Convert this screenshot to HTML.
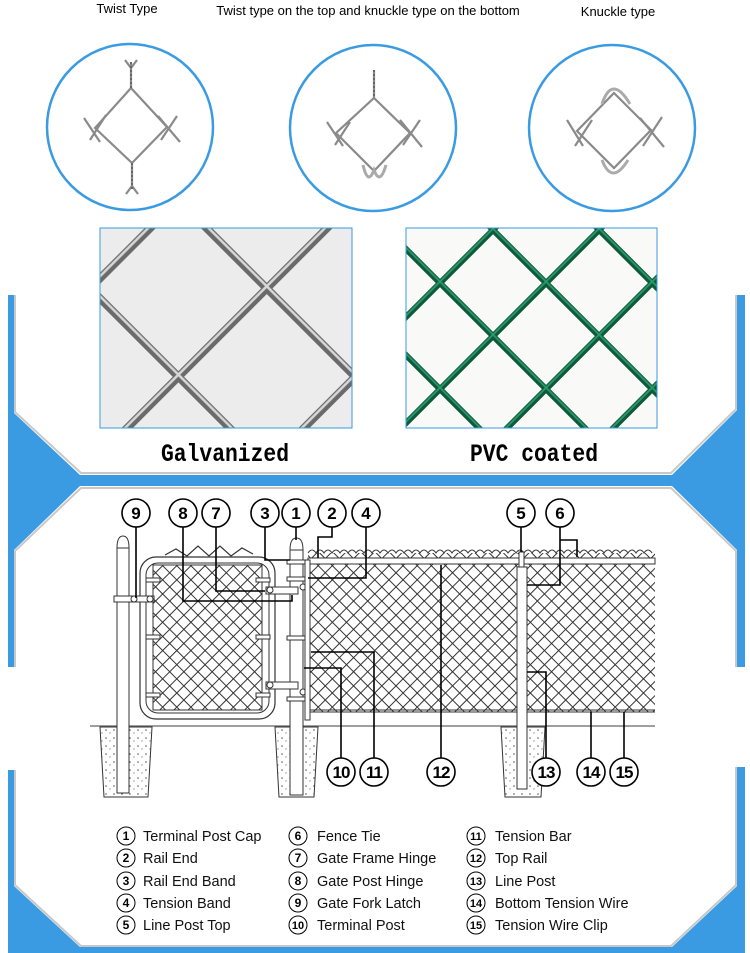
<!DOCTYPE html>
<html><head><meta charset="utf-8"><style>
html,body{margin:0;padding:0;background:#fff;}
svg{display:block;}
text{font-family:"Liberation Sans",sans-serif;}
</style></head><body>
<svg width="750" height="953" viewBox="0 0 750 953" xmlns="http://www.w3.org/2000/svg">
<defs>
<pattern id="mesh" width="10" height="10" patternUnits="userSpaceOnUse" patternTransform="rotate(45)">
<path d="M0 5H10M5 0V10" stroke="#333" stroke-width="1" fill="none"/>
</pattern>
<pattern id="galv" width="125" height="125" patternUnits="userSpaceOnUse" patternTransform="translate(90,200) rotate(45)">
<rect width="125" height="125" fill="#ececec"/>
<path d="M0 62.5H125M62.5 0V125" stroke="#6a6a6a" stroke-width="8" fill="none"/>
<path d="M0 61H125M61 0V125" stroke="#d8d8d8" stroke-width="2.5" fill="none"/>
</pattern>
<pattern id="pvc" width="75" height="75" patternUnits="userSpaceOnUse" patternTransform="translate(440,230) rotate(45)">
<rect width="75" height="75" fill="#f9f9f7"/>
<path d="M0 37.5H75M37.5 0V75" stroke="#0f5a3c" stroke-width="6" fill="none"/>
<path d="M0 36.5H75M36.5 0V75" stroke="#2a9a6a" stroke-width="1.8" fill="none"/>
</pattern>
<pattern id="conc" width="8" height="8" patternUnits="userSpaceOnUse">
<circle cx="2" cy="2" r="0.8" fill="#555"/><circle cx="6" cy="5" r="0.6" fill="#666"/>
</pattern>
</defs>

<text x="127" y="13" font-size="13" text-anchor="middle">Twist Type</text>
<text x="368" y="15" font-size="13" text-anchor="middle">Twist type on the top and knuckle type on the bottom</text>
<text x="618" y="16" font-size="13" text-anchor="middle">Knuckle type</text>

<g fill="none" stroke="#3a9be3" stroke-width="2.5">
<circle cx="130" cy="127" r="83"/><circle cx="373" cy="128" r="83"/><circle cx="612" cy="128" r="83"/>
</g>
<g fill="none" stroke="#8a8a8a" stroke-width="2.2">
<path d="M131 88L167 127L132 163L95 128Z"/>
<path d="M84 118L100 142M90 140L106 115M161 140L177 116M158 116L180 142"/>
<path d="M131 88V62M132 163V188M125 60L131 68L137 60M126 194L132 186L138 194"/>
<path d="M374 98L410 133L374 171L336 133Z"/>
<path d="M327 122L343 146M335 145L350 122M403 145L420 120M400 120L422 147"/>
<path d="M374 98V70"/>
<path d="M363 165Q368 186 374 170Q380 186 386 165" stroke-width="3" stroke="#aaa"/>
<path d="M614 93L651 130L614 168L577 131Z"/>
<path d="M567 120L583 146M575 146L592 120M643 146L662 117M640 118L664 147"/>
<path d="M602 104Q612 74 630 104M602 160Q612 186 628 160" stroke-width="3" stroke="#aaa"/>
</g>
<g stroke="#666" stroke-width="2" stroke-dasharray="2 2">
<path d="M131 62V88M132 163V190M374 70V98"/>
</g>

<rect x="100" y="228" width="252" height="200" fill="url(#galv)" stroke="#3a9be3"/>
<rect x="406" y="228" width="251" height="200" fill="url(#pvc)" stroke="#3a9be3"/>
<text x="161" y="461" font-size="25" font-weight="bold" textLength="128" lengthAdjust="spacingAndGlyphs" style="font-family:'Liberation Mono',monospace">Galvanized</text>
<text x="470" y="461" font-size="25" font-weight="bold" textLength="128" lengthAdjust="spacingAndGlyphs" style="font-family:'Liberation Mono',monospace">PVC coated</text>

<g fill="#3a9be3">
<path d="M8 295H14V413L80 475H672L737 410V295H745V667H737V550L672 486H80L14 550V667H8Z"/>
<path d="M8 770H14V886L80 947H672L737 886V767H745V953H8Z"/>
</g>
<g fill="none" stroke="#c8c8c8" stroke-width="2">
<path d="M15 295V412L81 473H671L736 409V295"/>
<path d="M15 667V551L81 488H671L736 551V667"/>
<path d="M15 770V885L81 946H671L736 885V767"/>
</g>

<line x1="90" y1="726" x2="655" y2="726" stroke="#666" stroke-width="1.2"/>
<g stroke="#333" stroke-width="1">
<path d="M100 727L152 727L148 797L104 797Z" fill="url(#conc)"/>
<path d="M275 727L318 727L314 797L279 797Z" fill="url(#conc)"/>
<path d="M501 727L545 727L541 797L505 797Z" fill="url(#conc)"/>
</g>
<rect x="308" y="565" width="347" height="147" fill="url(#mesh)"/>
<path d="M308 553Q312 547 316 553Q320 547 324 553Q328 547 332 553Q336 547 340 553Q344 547 348 553Q352 547 356 553Q360 547 364 553Q368 547 372 553Q376 547 380 553Q384 547 388 553Q392 547 396 553Q400 547 404 553Q408 547 412 553Q416 547 420 553Q424 547 428 553Q432 547 436 553Q440 547 444 553Q448 547 452 553Q456 547 460 553Q464 547 468 553Q472 547 476 553Q480 547 484 553Q488 547 492 553Q496 547 500 553Q504 547 508 553Q512 547 516 553Q520 547 524 553Q528 547 532 553Q536 547 540 553Q544 547 548 553Q552 547 556 553Q560 547 564 553Q568 547 572 553Q576 547 580 553Q584 547 588 553Q592 547 596 553Q600 547 604 553Q608 547 612 553Q616 547 620 553Q624 547 628 553Q632 547 636 553Q640 547 644 553Q648 547 652 553" fill="none" stroke="#333" stroke-width="1"/>
<rect x="308" y="553" width="347" height="12" fill="url(#mesh)"/>
<g stroke="#333" stroke-width="1" fill="#fff">
<rect x="308" y="558" width="347" height="6"/>
<line x1="308" y1="712" x2="655" y2="712"/>
<line x1="308" y1="710" x2="655" y2="710"/>
</g>
<rect x="140" y="557" width="135" height="162" rx="16" fill="#fff" stroke="#333" stroke-width="1.2"/>
<rect x="146" y="563" width="123" height="150" rx="12" fill="none" stroke="#333" stroke-width="1"/>
<rect x="153" y="565" width="109" height="145" fill="url(#mesh)" stroke="#333"/>
<path d="M165 555L176 549L187 556L198 546L209 556L220 546L231 556L242 548L253 554" fill="none" stroke="#333" stroke-width="1.2"/>
<g stroke="#333" fill="#fff" stroke-width="1">
<rect x="146" y="578" width="14" height="4"/><rect x="146" y="635" width="14" height="4"/><rect x="146" y="693" width="14" height="4"/>
<rect x="256" y="578" width="14" height="4"/><rect x="256" y="635" width="14" height="4"/><rect x="256" y="693" width="14" height="4"/>
<rect x="117" y="548" width="12" height="245"/>
<path d="M117 548Q117 536 123 536Q129 536 129 548Z"/>
<rect x="290" y="550" width="13" height="245"/>
<path d="M290 550Q290 538 296.5 538Q303 538 303 550Z"/>
<rect x="114" y="596" width="40" height="6"/>
<circle cx="134" cy="599" r="3"/><circle cx="150" cy="599" r="3"/>
<rect x="266" y="587" width="32" height="7"/><rect x="266" y="682" width="32" height="7"/>
<circle cx="270" cy="590" r="3"/><circle cx="270" cy="685" r="3"/>
<circle cx="303" cy="587" r="3"/><circle cx="303" cy="692" r="3"/>
<rect x="287" y="560" width="22" height="4"/><rect x="287" y="577" width="22" height="4"/>
<rect x="287" y="636" width="22" height="4"/><rect x="287" y="697" width="22" height="4"/>
<rect x="305" y="560" width="5" height="160"/>
<rect x="517" y="567" width="10" height="222"/>
<rect x="519" y="552" width="5" height="15"/>
</g>
<g fill="none" stroke="#000" stroke-width="1.6">
<path d="M136 527V598"/>
<path d="M183 527V601H292V595"/>
<path d="M216 527V591H265"/>
<path d="M265 527V560H290"/>
<path d="M296 527V540"/>
<path d="M332 527V537H318V558"/>
<path d="M366 527V578H308"/>
<path d="M521 527V552"/>
<path d="M560 527V585H527"/>
<path d="M560 540H577V557"/>
<path d="M341 758V668H304"/>
<path d="M374 758V652H311"/>
<path d="M441 758V565"/>
<path d="M546 758V672H527"/>
<path d="M591 758V712"/>
<path d="M624 758V712"/>
</g>
<g fill="#fff" stroke="#000" stroke-width="1.6">
<circle cx="136" cy="513" r="14"/><circle cx="183" cy="513" r="14"/><circle cx="216" cy="513" r="14"/>
<circle cx="265" cy="513" r="14"/><circle cx="296" cy="513" r="14"/><circle cx="332" cy="513" r="14"/>
<circle cx="366" cy="513" r="14"/><circle cx="521" cy="513" r="14"/><circle cx="560" cy="513" r="14"/>
<circle cx="341" cy="772" r="14"/><circle cx="374" cy="772" r="14"/><circle cx="441" cy="772" r="14"/>
<circle cx="546" cy="772" r="14"/><circle cx="591" cy="772" r="14"/><circle cx="624" cy="772" r="14"/>
</g>
<g font-weight="bold" font-size="17" text-anchor="middle" fill="#000">
<text x="136" y="519">9</text><text x="183" y="519">8</text><text x="216" y="519">7</text>
<text x="265" y="519">3</text><text x="296" y="519">1</text><text x="332" y="519">2</text>
<text x="366" y="519">4</text><text x="521" y="519">5</text><text x="560" y="519">6</text>
<text x="341" y="778" letter-spacing="-1">10</text><text x="374" y="778" letter-spacing="-1">11</text><text x="441" y="778" letter-spacing="-1">12</text>
<text x="546" y="778" letter-spacing="-1">13</text><text x="591" y="778" letter-spacing="-1">14</text><text x="624" y="778" letter-spacing="-1">15</text>
</g>

<g fill="#fff" stroke="#000" stroke-width="1">
<circle cx="126" cy="836" r="9"/><circle cx="126" cy="858" r="9"/><circle cx="126" cy="881" r="9"/><circle cx="126" cy="903" r="9"/><circle cx="126" cy="925" r="9"/>
<circle cx="298" cy="836" r="9"/><circle cx="298" cy="858" r="9"/><circle cx="298" cy="881" r="9"/><circle cx="298" cy="903" r="9"/><circle cx="298" cy="925" r="9"/>
<circle cx="476" cy="836" r="9"/><circle cx="476" cy="858" r="9"/><circle cx="476" cy="881" r="9"/><circle cx="476" cy="903" r="9"/><circle cx="476" cy="925" r="9"/>
</g>
<g font-size="12" font-weight="bold" text-anchor="middle">
<text x="126" y="840">1</text><text x="126" y="862">2</text><text x="126" y="885">3</text><text x="126" y="907">4</text><text x="126" y="929">5</text>
<text x="298" y="840">6</text><text x="298" y="862">7</text><text x="298" y="885">8</text><text x="298" y="907">9</text><text x="298" y="929" font-size="11">10</text>
<text x="476" y="840" font-size="11">11</text><text x="476" y="862" font-size="11">12</text><text x="476" y="885" font-size="11">13</text><text x="476" y="907" font-size="11">14</text><text x="476" y="929" font-size="11">15</text>
</g>
<g font-size="14.5" fill="#111">
<text x="143" y="841">Terminal Post Cap</text><text x="143" y="863">Rail End</text><text x="143" y="886">Rail End Band</text><text x="143" y="908">Tension Band</text><text x="143" y="930">Line Post Top</text>
<text x="317" y="841">Fence Tie</text><text x="317" y="863">Gate Frame Hinge</text><text x="317" y="886">Gate Post Hinge</text><text x="317" y="908">Gate Fork Latch</text><text x="317" y="930">Terminal Post</text>
<text x="495" y="841">Tension Bar</text><text x="495" y="863">Top Rail</text><text x="495" y="886">Line Post</text><text x="495" y="908">Bottom Tension Wire</text><text x="495" y="930">Tension Wire Clip</text>
</g>
</svg>
</body></html>
